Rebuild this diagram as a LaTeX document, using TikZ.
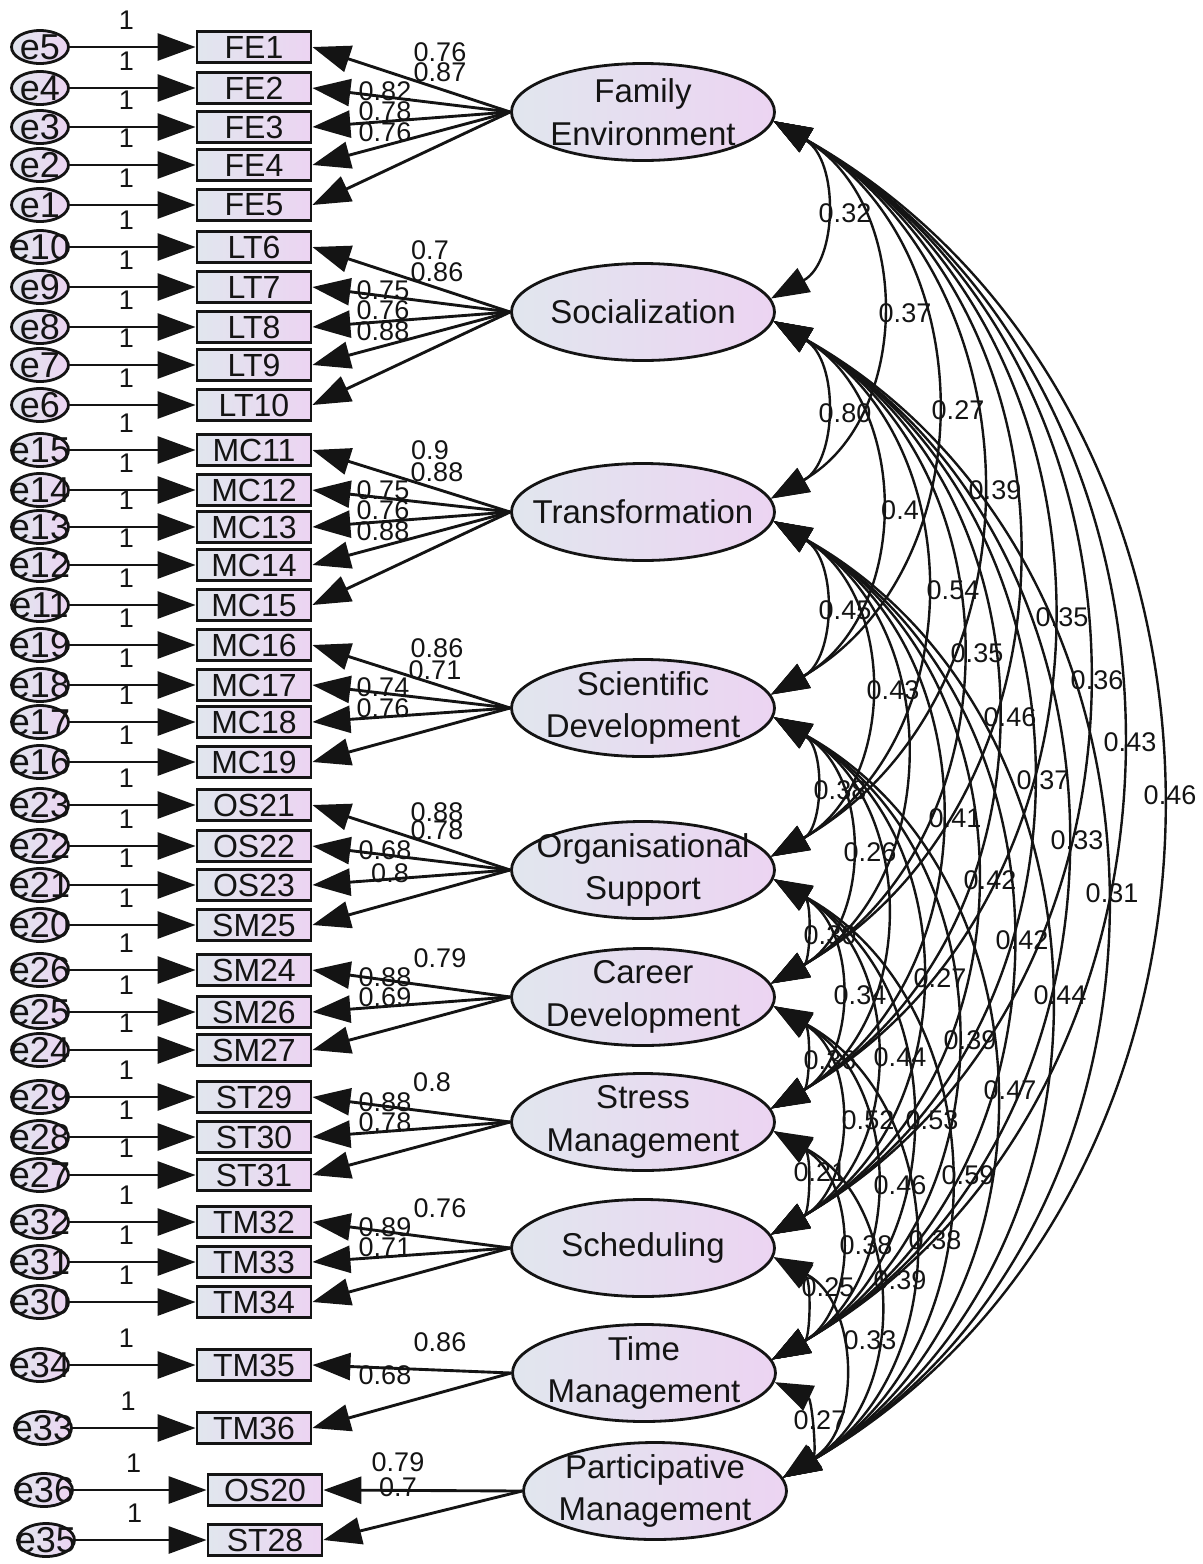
\documentclass[tikz,border=0pt]{standalone}
\usepackage{fontspec}
\setmainfont{Liberation Sans}
\usetikzlibrary{arrows.meta,shapes.geometric}
\definecolor{ink}{HTML}{141414}
\definecolor{lefttone}{HTML}{E1E6EE}
\definecolor{righttone}{HTML}{ECD4F2}
\tikzset{amos/.tip={Triangle[length=9.5pt,width=6.75pt]},latent/.style={draw=ink,line width=.7pt,ellipse,left color=lefttone,right color=righttone,minimum width=65.75pt,minimum height=24.25pt,inner sep=0pt},lattext/.style={align=center,font=\fontsize{8.25}{10.6}\selectfont,text=ink,inner sep=0pt},observed/.style={draw=ink,line width=.7pt,rectangle,left color=lefttone,right color=righttone,minimum width=28.5pt,minimum height=7.75pt,inner sep=0pt,font=\fontsize{8}{8}\selectfont,text=ink},errvar/.style={draw=ink,line width=.7pt,ellipse,left color=lefttone,right color=righttone,minimum width=14.25pt,minimum height=8.25pt,inner sep=0pt},errtext/.style={font=\fontsize{9}{9}\selectfont,text=ink,inner sep=0pt},est/.style={font=\fontsize{6.75}{6.75}\selectfont,text=ink,inner sep=0pt},errlink/.style={draw=ink,line width=.72pt,-amos},load/.style={draw=ink,line width=.72pt,-amos},cov/.style={draw=ink,line width=.6pt,amos-amos,bend left=60,looseness=1.1}}

\begin{document}
\begin{tikzpicture}[x=.25pt,y=-.25pt]
\useasboundingbox (0,0) rectangle (1202,1564);
\node[latent,label={[lattext]center:Family\\Environment}] (fam) at (643,112) {};
\node[latent,label={[lattext]center:Socialization}] (soc) at (643,312) {};
\node[latent,label={[lattext]center:Transformation}] (tra) at (643,512) {};
\node[latent,label={[lattext]center:Scientific\\Development}] (sci) at (643,708) {};
\node[latent,label={[lattext]center:Organisational\\Support}] (org) at (643,870) {};
\node[latent,label={[lattext]center:Career\\Development}] (car) at (643,997) {};
\node[latent,label={[lattext]center:Stress\\Management}] (str) at (643,1122) {};
\node[latent,label={[lattext]center:Scheduling}] (sch) at (643,1248) {};
\node[latent,label={[lattext]center:Time\\Management}] (tim) at (644,1373) {};
\node[latent,label={[lattext]center:Participative\\Management}] (par) at (655,1491) {};
\foreach \n/\t/\y/\e/\ex/\bx in {fe1/FE1/47/e5/40/254,fe2/FE2/88/e4/40/254,fe3/FE3/127/e3/40/254,fe4/FE4/165/e2/40/254,fe5/FE5/205/e1/40/254,lt6/LT6/247/e10/40/254,lt7/LT7/287/e9/40/254,lt8/LT8/327/e8/40/254,lt9/LT9/365/e7/40/254,lt10/LT10/405/e6/40/254,mc11/MC11/450/e15/40/254,mc12/MC12/490/e14/40/254,mc13/MC13/527/e13/40/254,mc14/MC14/565/e12/40/254,mc15/MC15/605/e11/40/254,mc16/MC16/645/e19/40/254,mc17/MC17/685/e18/40/254,mc18/MC18/722/e17/40/254,mc19/MC19/762/e16/40/254,os21/OS21/805/e23/40/254,os22/OS22/846/e22/40/254,os23/OS23/885/e21/40/254,sm25/SM25/925/e20/40/254,sm24/SM24/970/e26/40/254,sm26/SM26/1012/e25/40/254,sm27/SM27/1050/e24/40/254,st29/ST29/1097/e29/40/254,st30/ST30/1137/e28/40/254,st31/ST31/1175/e27/40/254,tm32/TM32/1222/e32/40/254,tm33/TM33/1262/e31/40/254,tm34/TM34/1302/e30/40/254,tm35/TM35/1365/e34/40/254,tm36/TM36/1428/e33/43/254,os20/OS20/1490/e36/44/265,st28/ST28/1540/e35/46/265}{
\node[errvar,label={[errtext]center:\e}] (\e) at (\ex,\y) {};
\node[observed] (\n) at (\bx,\y) {\t};
\draw[errlink] (\e) -- node[est,pos=.45,yshift=6.75pt] {1} (\n);
}
\foreach \f/\n/\v/\lx/\ly in {fam/fe1/0.76/440/52,fam/fe2/0.87/440/72,fam/fe3/0.82/385/91,fam/fe4/0.78/385/111,fam/fe5/0.76/385/132,soc/lt6/0.7/430/250,soc/lt7/0.86/437/272,soc/lt8/0.75/383/290,soc/lt9/0.76/383/310,soc/lt10/0.88/383/331,tra/mc11/0.9/430/450,tra/mc12/0.88/437/472,tra/mc13/0.75/383/490,tra/mc14/0.76/383/510,tra/mc15/0.88/383/531,sci/mc16/0.86/437/648,sci/mc17/0.71/435/670,sci/mc18/0.74/383/687,sci/mc19/0.76/383/708,org/os21/0.88/437/812,org/os22/0.78/437/830,org/os23/0.68/385/850,org/sm25/0.8/390/873,car/sm24/0.79/440/958,car/sm26/0.88/385/977,car/sm27/0.69/385/997,str/st29/0.8/432/1082,str/st30/0.88/385/1102,str/st31/0.78/385/1122,sch/tm32/0.76/440/1208,sch/tm33/0.89/385/1227,sch/tm34/0.71/385/1247,tim/tm35/0.86/440/1342,tim/tm36/0.68/385/1375,par/os20/0.79/398/1462,par/st28/0.7/398/1487}{
\draw[load] (\f.west) -- (\n.east);
\node[est] (w-\n) at (\lx,\ly) {\v};
}
% ends of the covariance arcs
\foreach \f in {fam,soc,tra,sci,org,car,str,sch,tim}\coordinate (\f-dn) at (\f.-4);
\foreach \f in {soc,tra,sci,org,car,str,sch,tim,par}\coordinate (\f-up) at (\f.6);
\foreach \a/\b/\v/\lx/\ly in {fam/soc/0.32/845/213,fam/tra/0.37/905/313,fam/sci/0.27/958/410,fam/org/0.39/995/490,fam/car//1030/554,fam/str/0.35/1062/617,fam/sch/0.36/1097/680,fam/tim/0.43/1130/742,fam/par/0.46/1170/795,soc/tra/0.80/845/413,soc/sci/0.4/900/510,soc/org/0.54/953/590,soc/car/0.35/977/653,soc/str/0.46/1010/717,soc/sch/0.37/1043/780,soc/tim/0.33/1077/840,soc/par/0.31/1112/893,tra/sci/0.45/845/610,tra/org/0.43/893/690,tra/car//928/754,tra/str/0.41/955/818,tra/sch/0.42/990/880,tra/tim/0.42/1022/940,tra/par/0.44/1060/995,sci/org/0.38/840/790,sci/car/0.26/870/852,sci/str//905/915,sci/sch/0.27/940/978,sci/tim/0.39/970/1040,sci/par/0.47/1010/1090,org/car/0.30/830/935,org/str/0.34/860/995,org/sch/0.44/900/1057,org/tim/0.53/932/1120,org/par/0.59/968/1175,car/str/0.36/830/1060,car/sch/0.52/868/1120,car/tim/0.46/900/1185,car/par/0.38/935/1240,str/sch/0.21/820/1172,str/tim/0.38/866/1245,str/par/0.39/900/1280,sch/tim/0.25/828/1287,sch/par/0.33/870/1340,tim/par/0.27/820/1420}{
\draw[cov] (\a-dn) to (\b-up);
\node[est] (r-\a-\b) at (\lx,\ly) {\v};
}
\end{tikzpicture}
\end{document}
